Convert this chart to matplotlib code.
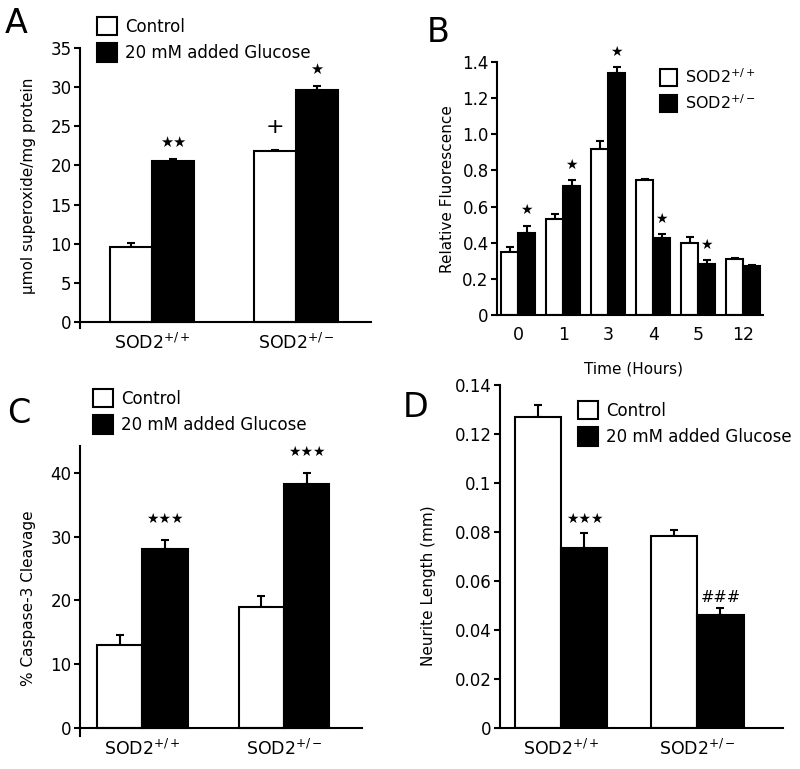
import numpy as np
import matplotlib
matplotlib.use("Agg")
import matplotlib.pyplot as plt

plt.rcParams['font.family'] = ['DejaVu Sans']
plt.rcParams['mathtext.fontset'] = 'dejavusans'

W, H = 800, 769

# Panel A: superoxide
a_groups = ['SOD2$^{+/+}$', 'SOD2$^{+/-}$']
a_ctrl = [9.6, 21.8]
a_ctrl_err = [0.5, 0.2]
a_glu = [20.6, 29.7]
a_glu_err = [0.2, 0.45]

# Panel B: fluorescence over time
b_times = ['0', '1', '3', '4', '5', '12']
b_wt = [0.35, 0.53, 0.92, 0.745, 0.40, 0.31]
b_wt_err = [0.025, 0.03, 0.045, 0.006, 0.03, 0.005]
b_het = [0.455, 0.715, 1.34, 0.425, 0.28, 0.272]
b_het_err = [0.04, 0.033, 0.03, 0.022, 0.022, 0.006]
b_star_idx = [0, 1, 2, 3, 4]

# Panel C: caspase-3 cleavage
c_groups = ['SOD2$^{+/+}$', 'SOD2$^{+/-}$']
c_ctrl = [13.0, 18.9]
c_ctrl_err = [1.5, 1.7]
c_glu = [28.0, 38.3]
c_glu_err = [1.4, 1.7]

# Panel D: neurite length
d_groups = ['SOD2$^{+/+}$', 'SOD2$^{+/-}$']
d_ctrl = [0.127, 0.0785]
d_ctrl_err = [0.005, 0.0022]
d_glu = [0.0733, 0.046]
d_glu_err = [0.0062, 0.003]


def rect(l, r, top, bot):
    return [l / W, 1 - bot / H, (r - l) / W, (bot - top) / H]


def style(ax):
    for s in ['top', 'right']:
        ax.spines[s].set_visible(False)
    ax.spines['left'].set_linewidth(1.5)
    ax.spines['bottom'].set_linewidth(1.5)
    ax.spines['bottom'].set_position(('data', 0))
    ax.tick_params(axis='x', length=0, labelsize=12.5, pad=8)
    ax.tick_params(axis='y', length=4, width=1.5, labelsize=12, pad=2)


def pair_bars(ax, x, v1, e1, v2, e2, w):
    b1 = ax.bar(x - w / 2, v1, w, color='white', edgecolor='black', linewidth=1.5, zorder=2)
    b2 = ax.bar(x + w / 2, v2, w, color='black', edgecolor='black', linewidth=1.5, zorder=2)
    ax.errorbar(x - w / 2, v1, yerr=[np.zeros(len(v1)), e1], fmt='none', ecolor='black',
                elinewidth=1.5, capsize=3, capthick=1.5, zorder=1)
    ax.errorbar(x + w / 2, v2, yerr=[np.zeros(len(v2)), e2], fmt='none', ecolor='black',
                elinewidth=1.5, capsize=3, capthick=1.5, zorder=1)
    return b1, b2


def legend(ax, handles, labels, x, y, hl=1.2, hh=1.32, fs=12):
    ax.legend(handles, labels, loc='upper left', bbox_to_anchor=(x / W, 1 - y / H),
              bbox_transform=fig.transFigure, frameon=False, borderpad=0, borderaxespad=0,
              handlelength=hl, handleheight=hh, handletextpad=0.5, labelspacing=0.45,
              fontsize=fs)


fig = plt.figure(figsize=(8, 7.69), dpi=100)

# ---- A ----
ax = fig.add_axes(rect(80, 371, 48, 328))
x = np.arange(2)
w = 0.29
b1, b2 = pair_bars(ax, x, a_ctrl, a_ctrl_err, a_glu, a_glu_err, w)
ax.set_xlim(-0.5, 1.52)
ax.set_ylim(-0.75, 35)
ax.set_yticks(np.arange(0, 36, 5))
ax.set_xticks(x)
ax.set_xticklabels(a_groups)
style(ax)
ax.set_ylabel('μmol superoxide/mg protein', fontsize=11, va='center')
ax.yaxis.set_label_coords(28 / W, 1 - 186 / H, transform=fig.transFigure)
ax.text(x[0] + w / 2, 22.9, '★★', ha='center', va='center', fontsize=10.5)
ax.text(x[1] + w / 2, 32.2, '★', ha='center', va='center', fontsize=10.5)
ax.text(x[1] - w / 2, 24.9, '+', ha='center', va='center', fontsize=16)
legend(ax, [b1, b2], ['Control', '20 mM added Glucose'], 97, 17)
fig.text(5 / W, 1 - 33 / H, 'A', fontsize=24, ha='left', va='baseline')

# ---- B ----
ax = fig.add_axes(rect(497, 763, 62, 315))
x = np.arange(len(b_times))
w = 0.38
b1, b2 = pair_bars(ax, x, b_wt, b_wt_err, b_het, b_het_err, w)
ax.set_xlim(-0.47, 5.44)
ax.set_ylim(0, 1.4)
ax.set_yticks(np.arange(0, 1.41, 0.2))
ax.set_yticklabels(['0', '0.2', '0.4', '0.6', '0.8', '1.0', '1.2', '1.4'])
ax.set_xticks(x)
ax.set_xticklabels(b_times)
style(ax)
ax.set_ylabel('Relative Fluorescence', fontsize=11, va='center')
ax.yaxis.set_label_coords(447 / W, 1 - 189 / H, transform=fig.transFigure)
ax.set_xlabel('Time (Hours)', fontsize=11)
ax.xaxis.set_label_coords(633 / W, 1 - 362 / H, transform=fig.transFigure)
for i in b_star_idx:
    ax.text(x[i] + w / 2, b_het[i] + b_het_err[i] + 0.085, '★', ha='center', va='center', fontsize=10)
legend(ax, [b1, b2], ['SOD2$^{+/+}$', 'SOD2$^{+/-}$'], 660, 67, hl=1.05, hh=1.25, fs=11.5)
fig.text(427 / W, 1 - 42 / H, 'B', fontsize=24, ha='left', va='baseline')

# ---- C ----
ax = fig.add_axes(rect(80, 362, 446, 736))
x = np.arange(2)
w = 0.32
b1, b2 = pair_bars(ax, x, c_ctrl, c_ctrl_err, c_glu, c_glu_err, w)
ax.set_xlim(-0.44, 1.55)
ax.set_ylim(-1.3, 44.2)
ax.set_yticks(np.arange(0, 41, 10))
ax.set_xticks(x)
ax.set_xticklabels(c_groups)
style(ax)
ax.set_ylabel('% Caspase-3 Cleavage', fontsize=11, va='center')
ax.yaxis.set_label_coords(28 / W, 1 - 598 / H, transform=fig.transFigure)
ax.text(x[0] + w / 2, 32.7, '★★★', ha='center', va='center', fontsize=10)
ax.text(x[1] + w / 2, 43.2, '★★★', ha='center', va='center', fontsize=10)
legend(ax, [b1, b2], ['Control', '20 mM added Glucose'], 93, 389)
fig.text(7 / W, 1 - 423 / H, 'C', fontsize=24, ha='left', va='baseline')

# ---- D ----
ax = fig.add_axes(rect(500, 783, 385, 728))
x = np.arange(2)
w = 0.34
b1, b2 = pair_bars(ax, x, d_ctrl, d_ctrl_err, d_glu, d_glu_err, w)
ax.set_xlim(-0.45, 1.63)
ax.set_ylim(0, 0.14)
ax.set_yticks(np.arange(0, 0.141, 0.02))
ax.set_yticklabels(['0', '0.02', '0.04', '0.06', '0.08', '0.1', '0.12', '0.14'])
ax.set_xticks(x)
ax.set_xticklabels(d_groups)
style(ax)
ax.set_ylabel('Neurite Length (mm)', fontsize=11, va='center')
ax.yaxis.set_label_coords(428 / W, 1 - 586 / H, transform=fig.transFigure)
ax.text(x[0] + w / 2, 0.0852, '★★★', ha='center', va='center', fontsize=10)
ax.text(x[1] + w / 2, 0.0533, '###', ha='center', va='center', fontsize=11.5)
legend(ax, [b1, b2], ['Control', '20 mM added Glucose'], 578, 401)
fig.text(403 / W, 1 - 417 / H, 'D', fontsize=24, ha='left', va='baseline')

fig.savefig('out.png', dpi=100)
